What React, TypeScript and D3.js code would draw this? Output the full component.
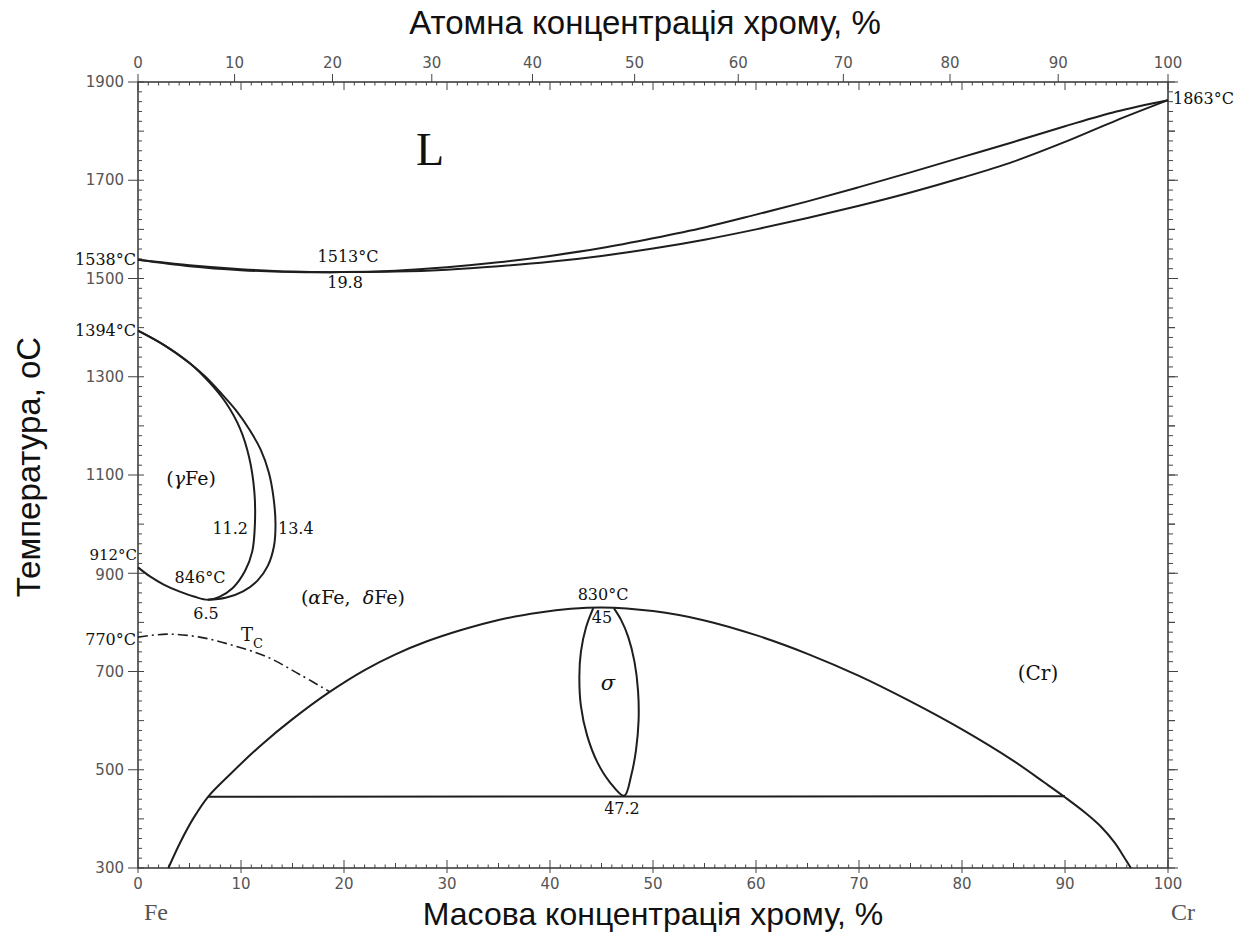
import React from 'react';
import * as d3 from 'd3';

type P = [number, number];

// wt% Cr, °C
const liquidus: P[] = [[0,1538],[5,1527],[10,1519],[15,1514],[19.8,1513],[25,1516],[30,1523],[35,1533],[40,1546],[45,1562],[50,1582],[55,1604],[60,1630],[65,1657],[70,1686],[75,1716],[80,1747],[85,1778],[90,1810],[95,1840],[100,1863]];
const solidus: P[] = [[0,1538],[5,1525],[10,1517],[15,1513],[19.8,1513],[25,1514],[30,1518],[35,1525],[40,1534],[45,1546],[50,1561],[55,1579],[60,1600],[65,1623],[70,1648],[75,1675],[80,1705],[85,1738],[90,1778],[95,1822],[100,1863]];
const gammaInner: P[] = [[0,1394],[2.5,1365],[5,1328],[7,1287],[8.5,1248],[9.9,1195],[10.8,1135],[11.3,1065],[11.35,1000],[11.1,945],[10.4,905],[9.2,870],[7.9,852],[6.8,846],[5.5,852],[4,863],[2.5,877],[1.2,893],[0,912]];
const gammaOuter: P[] = [[0,1394],[2.5,1365],[5,1328],[6.5,1301],[8,1268],[9.5,1232],[10.8,1193],[11.9,1152],[12.7,1105],[13.15,1055],[13.35,1000],[13.2,955],[12.6,915],[11.6,885],[10.2,863],[8.5,850],[6.8,846]];
const curieLine: P[] = [[0,770],[2.8,776],[6,770],[9.25,753],[12.5,730],[15.7,694],[18.6,659]];
const sigmaDome: P[] = [[2.95,300],[4.1,352],[5.4,402],[6.8,445],[9,492],[12,551],[15,603],[18.5,657],[22,703],[25,735],[28,761],[31.3,784],[35,805],[39,820],[42,827.5],[45,830.5],[50,823],[55,804],[60,774],[65,736],[70,691],[75,639],[80,582],[85,518],[88,474],[90,444],[92,412],[93.5,384],[94.8,352],[95.8,320],[96.4,300]];
const sigmaLens: P[] = [[44.2,829],[43.5,790],[43.0,740],[42.85,690],[43.0,630],[43.6,570],[44.6,515],[45.8,475],[47.2,447],[47.9,490],[48.35,540],[48.6,600],[48.55,660],[48.2,720],[47.6,770],[46.9,805],[46.2,829]];
const eutectoid: P[] = [[6.8,445],[90,446]];

const yTickLabels = [300,500,700,900,1100,1300,1500,1700,1900];
const xTickLabels = [0,10,20,30,40,50,60,70,80,90,100];
const atomicTickLabels = [0,10,20,30,40,50,60,70,80,90,100];

const atomicToMass = (a: number) => (a * 52.0) / (a * 52.0 + (100 - a) * 55.845) * 100;

export default function App() {
  const x = d3.scaleLinear().domain([0, 100]).range([138, 1168]);
  const y = d3.scaleLinear().domain([300, 1900]).range([868, 82]);
  const smooth = d3.line<P>().x(d => x(d[0])).y(d => y(d[1])).curve(d3.curveCatmullRom.alpha(0.5));
  const straight = d3.line<P>().x(d => x(d[0])).y(d => y(d[1]));

  const X0 = x(0), X1 = x(100), Y0 = y(300), Y1 = y(1900);
  const ink = '#1e1e1e';
  const serif = '"DejaVu Serif", serif';
  const sans = '"DejaVu Sans", sans-serif';
  const title = '"Liberation Sans", Arial, sans-serif';

  const massMinor = d3.range(0, 101, 1);
  const tempMinor = d3.range(300, 1901, 20);
  const tempMid = d3.range(300, 1901, 100);

  const curveStyle = { fill: 'none', stroke: ink, strokeWidth: 2 } as const;
  const lab = { fontFamily: serif, fontSize: 16, fill: '#111' } as const;

  return (
    <svg width={1254} height={941} style={{ position: 'absolute', left: 0, top: 0, background: '#fff' }}>
      <rect x={0} y={0} width={1254} height={941} fill="#fff" />
      <rect x={X0} y={Y1} width={X1 - X0} height={Y0 - Y1} fill="none" stroke="#333" strokeWidth={1.5} />

      {massMinor.map(v => (
        <line key={'bm' + v} x1={x(v)} x2={x(v)} y1={Y0} y2={Y0 - (v % 10 === 0 ? 8 : (v % 5 === 0 ? 5 : 3.5))} stroke="#444" strokeWidth={1} />
      ))}
      {xTickLabels.map(v => (
        <line key={'bd' + v} x1={x(v)} x2={x(v)} y1={Y0} y2={Y0 + 5} stroke="#444" strokeWidth={1} />
      ))}
      {xTickLabels.map(v => (
        <text key={'bl' + v} x={x(v)} y={884} textAnchor="middle" dominantBaseline="central" fontFamily={sans} fontSize={15} fill="#555">{v}</text>
      ))}

      {massMinor.map(v => (
        <line key={'tm' + v} x1={x(v)} x2={x(v)} y1={Y1} y2={Y1 + (v % 10 === 0 ? 8 : 3.5)} stroke="#444" strokeWidth={1} />
      ))}
      {atomicTickLabels.map(a => (
        <line key={'ta' + a} x1={x(atomicToMass(a))} x2={x(atomicToMass(a))} y1={Y1} y2={Y1 - 8} stroke="#444" strokeWidth={1} />
      ))}
      {atomicTickLabels.map(a => (
        <text key={'tl' + a} x={x(atomicToMass(a))} y={63} textAnchor="middle" dominantBaseline="central" fontFamily={sans} fontSize={15} fill="#555">{a}</text>
      ))}

      {tempMinor.map(v => (
        <line key={'lm' + v} x1={X0} x2={X0 + (v % 100 === 0 ? 6 : 4)} y1={y(v)} y2={y(v)} stroke="#444" strokeWidth={1} />
      ))}
      {yTickLabels.map(v => (
        <line key={'lt' + v} x1={X0 - 10} x2={X0} y1={y(v)} y2={y(v)} stroke="#444" strokeWidth={1} />
      ))}
      {yTickLabels.map(v => (
        <text key={'ll' + v} x={124} y={y(v) + (v === 900 ? 2 : 0)} textAnchor="end" dominantBaseline="central" fontFamily={sans} fontSize={15} fill="#555">{v}</text>
      ))}

      {tempMinor.map(v => (
        <line key={'rm' + v} x1={X1} x2={X1 + (v % 200 === 100 ? 10 : (v % 100 === 0 ? 7 : 5))} y1={y(v)} y2={y(v)} stroke="#444" strokeWidth={1} />
      ))}
      {tempMid.map(v => (
        <line key={'rmid' + v} x1={X1} x2={X1 + 7} y1={y(v)} y2={y(v)} stroke="#444" strokeWidth={1} />
      ))}

      <path d={smooth(liquidus) || ''} {...curveStyle} />
      <path d={smooth(solidus) || ''} {...curveStyle} />
      <path d={smooth(gammaInner) || ''} {...curveStyle} />
      <path d={smooth(gammaOuter) || ''} {...curveStyle} />
      <path d={smooth(curieLine) || ''} fill="none" stroke={ink} strokeWidth={1.6} strokeDasharray="10,4,2,4" />
      <path d={smooth(sigmaDome) || ''} {...curveStyle} />
      <path d={smooth(sigmaLens) || ''} {...curveStyle} />
      <path d={straight(eutectoid) || ''} {...curveStyle} />

      <text x={136} y={y(1538)} textAnchor="end" dominantBaseline="central" {...lab}>1538°C</text>
      <text x={136} y={y(1394)} textAnchor="end" dominantBaseline="central" {...lab}>1394°C</text>
      <text x={137} y={y(912) - 12} textAnchor="end" dominantBaseline="central" {...lab} fontSize={15}>912°C</text>
      <text x={136} y={y(770) + 2} textAnchor="end" dominantBaseline="central" {...lab}>770°C</text>
      <text x={X1 + 5} y={y(1863) - 2} textAnchor="start" dominantBaseline="central" {...lab}>1863°C</text>

      <text x={x(28.35)} y={y(1762)} textAnchor="middle" dominantBaseline="central" fontFamily='"Liberation Serif", serif' fontSize={46} fill="#111">L</text>
      <text x={x(20.39)} y={y(1544)} textAnchor="middle" dominantBaseline="central" {...lab}>1513°C</text>
      <text x={x(20.1)} y={y(1491)} textAnchor="middle" dominantBaseline="central" {...lab}>19.8</text>
      <text x={x(5.15)} y={y(1094)} textAnchor="middle" dominantBaseline="central" fontFamily={serif} fontSize={19} fill="#111">(<tspan fontStyle="italic">γ</tspan>Fe)</text>
      <text x={x(10.68)} y={y(992)} textAnchor="end" dominantBaseline="central" {...lab}>11.2</text>
      <text x={x(13.59)} y={y(992)} textAnchor="start" dominantBaseline="central" {...lab}>13.4</text>
      <text x={x(6.02)} y={y(892)} textAnchor="middle" dominantBaseline="central" {...lab}>846°C</text>
      <text x={x(6.6)} y={y(819)} textAnchor="middle" dominantBaseline="central" {...lab}>6.5</text>
      <text x={x(20.87)} y={y(852)} textAnchor="middle" dominantBaseline="central" fontFamily={serif} fontSize={19} fill="#111" style={{ whiteSpace: 'pre' }}>(<tspan fontStyle="italic">α</tspan>Fe,  <tspan fontStyle="italic">δ</tspan>Fe)</text>
      <text x={x(10.58)} y={y(776)} textAnchor="middle" dominantBaseline="central" fontFamily={serif} fontSize={18} fill="#111">T</text>
      <text x={x(11.65)} y={y(758)} textAnchor="middle" dominantBaseline="central" fontFamily={serif} fontSize={13} fill="#111">C</text>
      <text x={x(45.15)} y={y(856)} textAnchor="middle" dominantBaseline="central" {...lab}>830°C</text>
      <text x={x(45.05)} y={y(809)} textAnchor="middle" dominantBaseline="central" {...lab}>45</text>
      <text x={x(45.63)} y={y(677)} textAnchor="middle" dominantBaseline="central" fontFamily={serif} fontSize={21} fontStyle="italic" fill="#111">σ</text>
      <text x={x(46.99)} y={y(422)} textAnchor="middle" dominantBaseline="central" {...lab}>47.2</text>
      <text x={x(87.38)} y={y(697)} textAnchor="middle" dominantBaseline="central" fontFamily={serif} fontSize={20} fill="#111">(Cr)</text>

      <text x={156} y={912} textAnchor="middle" dominantBaseline="central" fontFamily='"Liberation Serif", serif' fontSize={24} fill="#555">Fe</text>
      <text x={1183} y={912} textAnchor="middle" dominantBaseline="central" fontFamily='"Liberation Serif", serif' fontSize={24} fill="#555">Cr</text>

      <text x={645} y={22} textAnchor="middle" dominantBaseline="central" fontFamily={title} fontSize={33} fill="#111">Атомна концентрація хрому, %</text>
      <text x={653} y={914} textAnchor="middle" dominantBaseline="central" fontFamily={title} fontSize={32} fill="#111">Масова концентрація хрому, %</text>
      <text transform="translate(28,467) rotate(-90)" textAnchor="middle" dominantBaseline="central" fontFamily={title} fontSize={33} fill="#111">Температура, оС</text>
    </svg>
  );
}
